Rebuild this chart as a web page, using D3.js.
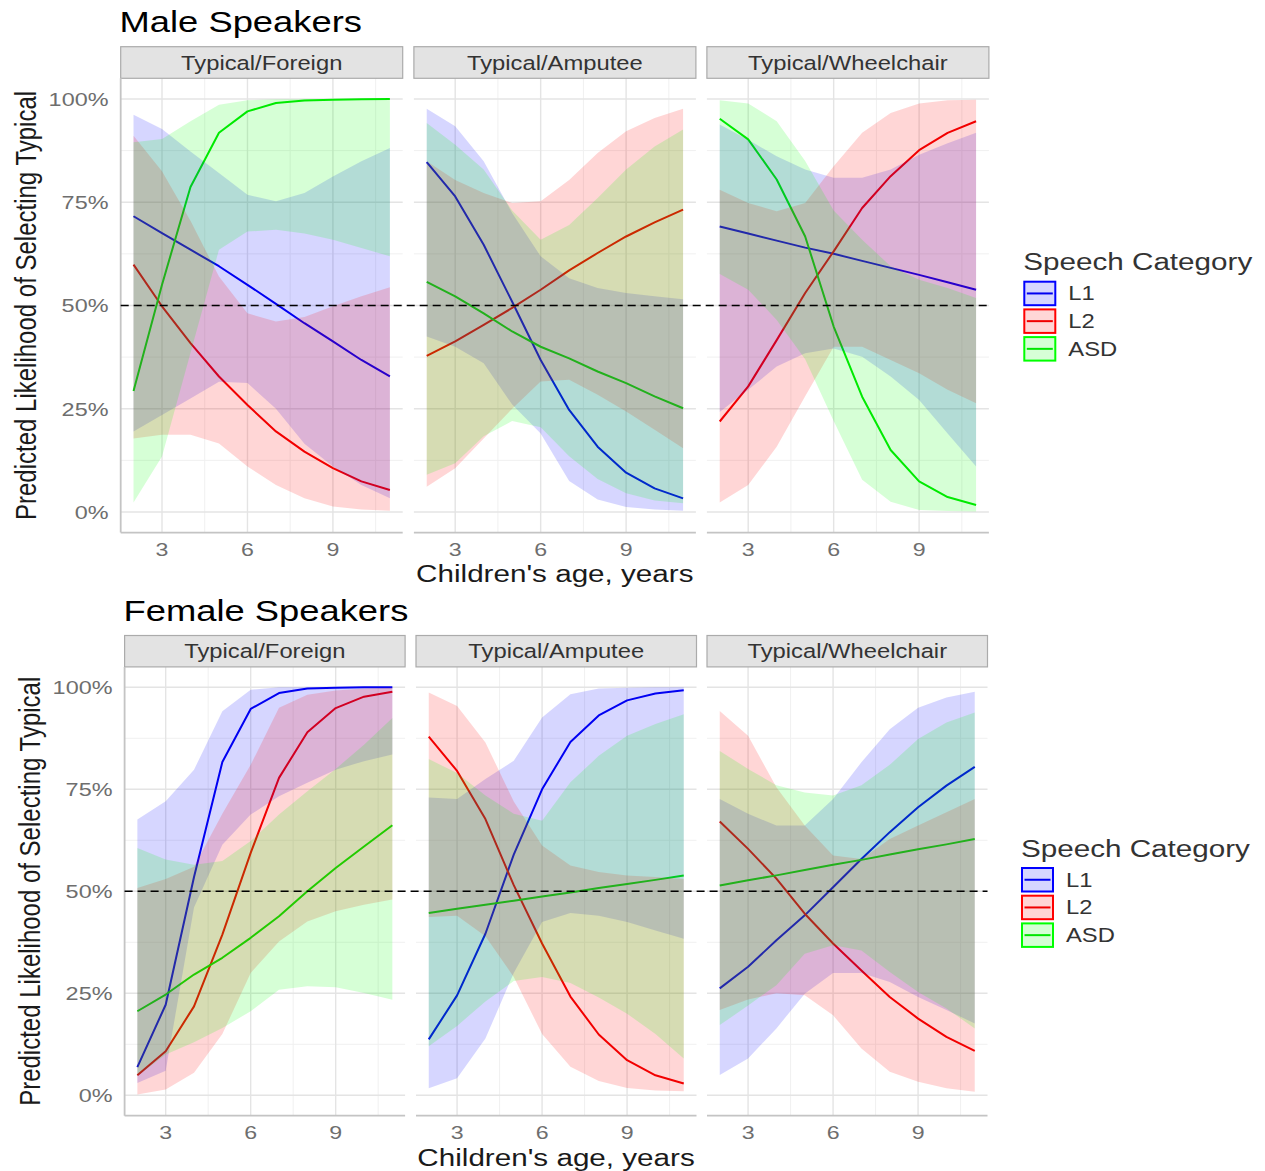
<!DOCTYPE html>
<html>
<head>
<meta charset="utf-8">
<script src="https://cdn.jsdelivr.net/npm/d3@7"></script>
<style>
  html, body { margin: 0; padding: 0; background: #ffffff; }
  svg { display: block; }
  text { font-family: "Liberation Sans", Arial, sans-serif; }
</style>
</head>
<body>
<svg id="chart" width="1265" height="1171"></svg>
<script>
// ---------------- data ----------------
const ages = [2, 3, 4, 5, 6, 7, 8, 9, 10, 11];
const facets = ["Typical/Foreign", "Typical/Amputee", "Typical/Wheelchair"];
const categories = ["L1", "L2", "ASD"];
const figureTitles = ["Male Speakers", "Female Speakers"];
const yTickValues = [0, 0.25, 0.5, 0.75, 1];
const yTickLabels = ["0%", "25%", "50%", "75%", "100%"];
const xTickValues = [3, 6, 9];
const legendTitle = "Speech Category";
const xAxisTitle = "Children's age, years";
const yAxisTitle = "Predicted Likelihood of Selecting Typical";
const referenceLine = 0.5;

// Male speakers - Typical/Foreign
const male_foreign_L1     = [0.716, 0.675, 0.635, 0.595, 0.550, 0.504, 0.457, 0.413, 0.368, 0.328];
const male_foreign_L1_lo  = [0.195, 0.235, 0.275, 0.315, 0.312, 0.250, 0.165, 0.110, 0.065, 0.033];
const male_foreign_L1_hi  = [0.962, 0.927, 0.873, 0.821, 0.768, 0.752, 0.772, 0.812, 0.849, 0.881];
const male_foreign_L2     = [0.599, 0.498, 0.409, 0.328, 0.259, 0.195, 0.146, 0.106, 0.074, 0.053];
const male_foreign_L2_lo  = [0.178, 0.187, 0.187, 0.166, 0.110, 0.065, 0.033, 0.013, 0.006, 0.003];
const male_foreign_L2_hi  = [0.911, 0.825, 0.705, 0.570, 0.481, 0.461, 0.472, 0.498, 0.522, 0.544];
const male_foreign_ASD    = [0.293, 0.550, 0.787, 0.918, 0.970, 0.990, 0.996, 0.998, 0.999, 1.000];
const male_foreign_ASD_lo = [0.023, 0.134, 0.385, 0.635, 0.679, 0.683, 0.674, 0.659, 0.639, 0.619];
const male_foreign_ASD_hi = [0.895, 0.903, 0.946, 0.986, 0.997, 0.999, 1.000, 1.000, 1.000, 1.000];

// Male speakers - Typical/Amputee
const male_amputee_L1     = [0.847, 0.764, 0.647, 0.509, 0.368, 0.247, 0.158, 0.095, 0.057, 0.033];
const male_amputee_L1_lo  = [0.425, 0.400, 0.360, 0.260, 0.190, 0.075, 0.030, 0.012, 0.006, 0.003];
const male_amputee_L1_hi  = [0.976, 0.934, 0.849, 0.724, 0.619, 0.566, 0.542, 0.530, 0.522, 0.515];
const male_amputee_L2     = [0.378, 0.413, 0.453, 0.494, 0.538, 0.585, 0.627, 0.667, 0.701, 0.732];
const male_amputee_L2_lo  = [0.061, 0.106, 0.178, 0.250, 0.316, 0.320, 0.284, 0.243, 0.199, 0.154];
const male_amputee_L2_hi  = [0.849, 0.804, 0.772, 0.748, 0.752, 0.804, 0.869, 0.922, 0.954, 0.976];
const male_amputee_ASD    = [0.557, 0.522, 0.481, 0.437, 0.400, 0.372, 0.340, 0.312, 0.280, 0.251];
const male_amputee_ASD_lo = [0.090, 0.118, 0.183, 0.220, 0.205, 0.135, 0.080, 0.045, 0.028, 0.021];
const male_amputee_ASD_hi = [0.942, 0.889, 0.829, 0.730, 0.659, 0.695, 0.760, 0.829, 0.885, 0.926];

// Male speakers - Typical/Wheelchair
const male_wheel_L1     = [0.691, 0.674, 0.657, 0.640, 0.625, 0.608, 0.591, 0.574, 0.556, 0.538];
const male_wheel_L1_lo  = [0.242, 0.296, 0.352, 0.384, 0.396, 0.376, 0.328, 0.271, 0.190, 0.110];
const male_wheel_L1_hi  = [0.938, 0.901, 0.861, 0.829, 0.809, 0.809, 0.829, 0.865, 0.893, 0.918];
const male_wheel_L2     = [0.219, 0.304, 0.416, 0.530, 0.631, 0.736, 0.813, 0.876, 0.918, 0.946];
const male_wheel_L2_lo  = [0.023, 0.065, 0.158, 0.280, 0.400, 0.400, 0.368, 0.336, 0.296, 0.263];
const male_wheel_L2_hi  = [0.780, 0.748, 0.728, 0.748, 0.837, 0.918, 0.966, 0.989, 0.997, 0.998];
const male_wheel_ASD    = [0.952, 0.902, 0.805, 0.667, 0.449, 0.279, 0.150, 0.074, 0.036, 0.017];
const male_wheel_ASD_lo = [0.576, 0.538, 0.465, 0.370, 0.220, 0.078, 0.025, 0.005, 0.002, 0.001];
const male_wheel_ASD_hi = [0.997, 0.989, 0.946, 0.850, 0.730, 0.659, 0.595, 0.562, 0.542, 0.518];

// Female speakers - Typical/Foreign
const female_foreign_L1     = [0.069, 0.222, 0.535, 0.817, 0.947, 0.986, 0.997, 0.999, 1.000, 1.000];
const female_foreign_L1_lo  = [0.030, 0.060, 0.460, 0.614, 0.688, 0.733, 0.766, 0.798, 0.819, 0.835];
const female_foreign_L1_hi  = [0.676, 0.721, 0.798, 0.941, 0.994, 1.000, 1.000, 1.000, 1.000, 1.000];
const female_foreign_L2     = [0.049, 0.108, 0.218, 0.394, 0.594, 0.778, 0.890, 0.949, 0.977, 0.989];
const female_foreign_L2_lo  = [0.002, 0.014, 0.055, 0.150, 0.300, 0.377, 0.426, 0.451, 0.467, 0.480];
const female_foreign_L2_hi  = [0.508, 0.530, 0.560, 0.690, 0.810, 0.950, 0.982, 0.992, 0.997, 0.999];
const female_foreign_ASD    = [0.206, 0.247, 0.296, 0.337, 0.386, 0.439, 0.500, 0.557, 0.610, 0.662];
const female_foreign_ASD_lo = [0.047, 0.100, 0.130, 0.165, 0.206, 0.259, 0.267, 0.265, 0.251, 0.234];
const female_foreign_ASD_hi = [0.606, 0.578, 0.565, 0.574, 0.623, 0.688, 0.745, 0.800, 0.859, 0.925];

// Female speakers - Typical/Amputee
const female_amputee_L1     = [0.137, 0.245, 0.396, 0.590, 0.750, 0.866, 0.931, 0.968, 0.985, 0.993];
const female_amputee_L1_lo  = [0.017, 0.042, 0.139, 0.300, 0.425, 0.447, 0.440, 0.425, 0.404, 0.384];
const female_amputee_L1_hi  = [0.730, 0.726, 0.775, 0.820, 0.926, 0.983, 0.997, 0.999, 1.000, 1.000];
const female_amputee_L2     = [0.879, 0.795, 0.677, 0.515, 0.372, 0.242, 0.149, 0.086, 0.049, 0.029];
const female_amputee_L2_lo  = [0.437, 0.440, 0.390, 0.290, 0.150, 0.070, 0.035, 0.018, 0.012, 0.010];
const female_amputee_L2_hi  = [0.987, 0.954, 0.865, 0.720, 0.612, 0.563, 0.547, 0.539, 0.535, 0.530];
const female_amputee_ASD    = [0.447, 0.457, 0.467, 0.477, 0.487, 0.497, 0.508, 0.518, 0.528, 0.539];
const female_amputee_ASD_lo = [0.120, 0.170, 0.230, 0.280, 0.290, 0.275, 0.240, 0.200, 0.150, 0.090];
const female_amputee_ASD_hi = [0.824, 0.790, 0.735, 0.690, 0.673, 0.767, 0.832, 0.881, 0.910, 0.934];

// Female speakers - Typical/Wheelchair
const female_wheel_L1     = [0.262, 0.315, 0.380, 0.441, 0.510, 0.579, 0.645, 0.706, 0.759, 0.805];
const female_wheel_L1_lo  = [0.050, 0.090, 0.164, 0.249, 0.300, 0.300, 0.278, 0.241, 0.209, 0.176];
const female_wheel_L1_hi  = [0.726, 0.690, 0.661, 0.661, 0.726, 0.816, 0.897, 0.950, 0.975, 0.989];
const female_wheel_L2     = [0.671, 0.604, 0.531, 0.445, 0.372, 0.306, 0.241, 0.188, 0.143, 0.109];
const female_wheel_L2_lo  = [0.209, 0.235, 0.250, 0.245, 0.196, 0.115, 0.058, 0.033, 0.017, 0.009];
const female_wheel_L2_hi  = [0.942, 0.881, 0.755, 0.661, 0.588, 0.579, 0.628, 0.661, 0.694, 0.726];
const female_wheel_ASD    = [0.514, 0.527, 0.539, 0.552, 0.565, 0.577, 0.590, 0.603, 0.615, 0.628];
const female_wheel_ASD_lo = [0.172, 0.220, 0.270, 0.347, 0.368, 0.355, 0.302, 0.253, 0.213, 0.164];
const female_wheel_ASD_hi = [0.844, 0.800, 0.760, 0.742, 0.735, 0.760, 0.810, 0.873, 0.914, 0.938];

// ---------------- tables built from the arrays ----------------
const panelData = [
  [ // male
    { L1: [male_foreign_L1, male_foreign_L1_lo, male_foreign_L1_hi],
      L2: [male_foreign_L2, male_foreign_L2_lo, male_foreign_L2_hi],
      ASD: [male_foreign_ASD, male_foreign_ASD_lo, male_foreign_ASD_hi] },
    { L1: [male_amputee_L1, male_amputee_L1_lo, male_amputee_L1_hi],
      L2: [male_amputee_L2, male_amputee_L2_lo, male_amputee_L2_hi],
      ASD: [male_amputee_ASD, male_amputee_ASD_lo, male_amputee_ASD_hi] },
    { L1: [male_wheel_L1, male_wheel_L1_lo, male_wheel_L1_hi],
      L2: [male_wheel_L2, male_wheel_L2_lo, male_wheel_L2_hi],
      ASD: [male_wheel_ASD, male_wheel_ASD_lo, male_wheel_ASD_hi] }
  ],
  [ // female
    { L1: [female_foreign_L1, female_foreign_L1_lo, female_foreign_L1_hi],
      L2: [female_foreign_L2, female_foreign_L2_lo, female_foreign_L2_hi],
      ASD: [female_foreign_ASD, female_foreign_ASD_lo, female_foreign_ASD_hi] },
    { L1: [female_amputee_L1, female_amputee_L1_lo, female_amputee_L1_hi],
      L2: [female_amputee_L2, female_amputee_L2_lo, female_amputee_L2_hi],
      ASD: [female_amputee_ASD, female_amputee_ASD_lo, female_amputee_ASD_hi] },
    { L1: [female_wheel_L1, female_wheel_L1_lo, female_wheel_L1_hi],
      L2: [female_wheel_L2, female_wheel_L2_lo, female_wheel_L2_hi],
      ASD: [female_wheel_ASD, female_wheel_ASD_lo, female_wheel_ASD_hi] }
  ]
];

// ---------------- layout / style ----------------
const SX = 1.22; // horizontal text stretch seen in the picture
const fillColor = { L1: "#0000ff", L2: "#ff0000", ASD: "#00ff00" };
const lineColor = { L1: "#0000f0", L2: "#f00000", ASD: "#00e600" };
const ribbonOpacity = 0.16;

const layouts = [
  { titleX: 119.5, titleY: 32, stripTop: 46.7, panelTop: 78.3, panelBottom: 532.6,
    panelLeft: [120.7, 413.9, 706.9], panelW: 282, yLabelRight: 108.5, yTitleX: 36,
    xTitleY: 582, tickY: 556, legendX: 1023.3, legendTitleY: 270, keyTop: 280.7 },
  { titleX: 123.5, titleY: 621, stripTop: 635.5, panelTop: 666.9, panelBottom: 1115.7,
    panelLeft: [124.6, 416, 707], panelW: 280.5, yLabelRight: 112.5, yTitleX: 40,
    xTitleY: 1166, tickY: 1139, legendX: 1021, legendTitleY: 857, keyTop: 867 }
];

const svg = d3.select("#chart");
svg.append("rect").attr("width", 1265).attr("height", 1171).attr("fill", "#ffffff");

function sText(g, x, y, str, size, color, anchor, extra) {
  return g.append("text")
    .attr("transform", `translate(${x},${y}) scale(${SX},1)` + (extra || ""))
    .attr("text-anchor", anchor || "start")
    .attr("font-size", size)
    .attr("fill", color)
    .text(str);
}

layouts.forEach((L, fi) => {
  const g = svg.append("g");
  const y = d3.scaleLinear().domain([-0.05, 1.05]).range([L.panelBottom, L.panelTop]);

  // title
  sText(g, L.titleX, L.titleY, figureTitles[fi], 29.8, "#000000", "start");

  facets.forEach((facet, pi) => {
    const x0 = L.panelLeft[pi];
    const x = d3.scaleLinear().domain([1.55, 11.45]).range([x0, x0 + L.panelW]);
    const pg = g.append("g");

    // minor grid
    const minorY = d3.range(0.125, 1, 0.25);
    const minorX = [4.5, 7.5, 10.5];
    pg.selectAll(".mgy").data(minorY).enter().append("line")
      .attr("x1", x0).attr("x2", x0 + L.panelW)
      .attr("y1", d => y(d)).attr("y2", d => y(d))
      .attr("stroke", "#f0f0f0").attr("stroke-width", 1);
    pg.selectAll(".mgx").data(minorX).enter().append("line")
      .attr("x1", d => x(d)).attr("x2", d => x(d))
      .attr("y1", L.panelTop).attr("y2", L.panelBottom)
      .attr("stroke", "#f0f0f0").attr("stroke-width", 1);
    // major grid
    pg.selectAll(".gy").data(yTickValues).enter().append("line")
      .attr("x1", x0).attr("x2", x0 + L.panelW)
      .attr("y1", d => y(d)).attr("y2", d => y(d))
      .attr("stroke", "#e4e4e4").attr("stroke-width", 1.4);
    pg.selectAll(".gx").data(xTickValues).enter().append("line")
      .attr("x1", d => x(d)).attr("x2", d => x(d))
      .attr("y1", L.panelTop).attr("y2", L.panelBottom)
      .attr("stroke", "#e4e4e4").attr("stroke-width", 1.4);

    // lines (drawn beneath ribbons)
    const data = panelData[fi][pi];
    categories.forEach(cat => {
      const fit = data[cat][0];
      const line = d3.line().x((d, i) => x(ages[i])).y(d => y(d));
      pg.append("path").attr("d", line(fit))
        .attr("fill", "none").attr("stroke", lineColor[cat]).attr("stroke-width", 2)
        .attr("stroke-linejoin", "round");
    });
    // ribbons
    categories.forEach(cat => {
      const lo = data[cat][1], hi = data[cat][2];
      const area = d3.area().x((d, i) => x(ages[i])).y0((d, i) => y(lo[i])).y1((d, i) => y(hi[i]));
      pg.append("path").attr("d", area(lo))
        .attr("fill", fillColor[cat]).attr("fill-opacity", ribbonOpacity).attr("stroke", "none");
    });

    // strip
    pg.append("rect").attr("x", x0).attr("y", L.stripTop)
      .attr("width", L.panelW).attr("height", L.panelTop - L.stripTop)
      .attr("fill", "#e3e3e3").attr("stroke", "#ababab").attr("stroke-width", 1.2);
    sText(pg, x0 + L.panelW / 2, (L.stripTop + L.panelTop) / 2 + 7.2, facet, 19.5, "#333333", "middle");

    // x axis line and tick labels
    pg.append("line").attr("x1", x0).attr("x2", x0 + L.panelW)
      .attr("y1", L.panelBottom).attr("y2", L.panelBottom)
      .attr("stroke", "#c4c4c4").attr("stroke-width", 1.8);
    xTickValues.forEach(t => {
      sText(pg, x(t), L.tickY, String(t), 19, "#6e6e6e", "middle");
    });

    if (pi === 0) {
      pg.append("line").attr("x1", x0).attr("x2", x0)
        .attr("y1", L.panelTop).attr("y2", L.panelBottom)
        .attr("stroke", "#c4c4c4").attr("stroke-width", 1.8);
      yTickValues.forEach((t, i) => {
        sText(pg, L.yLabelRight, y(t) + 6.8, yTickLabels[i], 19.2, "#6e6e6e", "end");
      });
    }
  });

  // reference dashed line across panels
  const xStart = L.panelLeft[0], xEnd = L.panelLeft[2] + L.panelW;
  g.append("line").attr("x1", xStart).attr("x2", xEnd)
    .attr("y1", y(referenceLine)).attr("y2", y(referenceLine))
    .attr("stroke", "#000000").attr("stroke-width", 1.6).attr("stroke-dasharray", "8,5");

  // axis titles
  sText(g, (xStart + xEnd) / 2, L.xTitleY, xAxisTitle, 24.3, "#1a1a1a", "middle");
  g.append("text")
    .attr("transform", `translate(${L.yTitleX},${(L.panelTop + L.panelBottom) / 2}) scale(${SX},1) rotate(-90)`)
    .attr("text-anchor", "middle").attr("font-size", 24).attr("fill", "#1a1a1a")
    .text(yAxisTitle);

  // legend
  const lg = g.append("g");
  lg.append("text")
    .attr("transform", `translate(${L.legendX},${L.legendTitleY}) scale(1.2,1)`)
    .attr("font-size", 24.7).attr("fill", "#333333").text(legendTitle);
  const keyW = 33, keyH = 25.5, keyStep = 27.7;
  categories.forEach((cat, i) => {
    const ky = L.keyTop + i * keyStep;
    lg.append("rect").attr("x", L.legendX + 1).attr("y", ky + 1)
      .attr("width", keyW - 2).attr("height", keyH - 2)
      .attr("fill", "#ffffff");
    lg.append("rect").attr("x", L.legendX + 1).attr("y", ky + 1)
      .attr("width", keyW - 2).attr("height", keyH - 2)
      .attr("fill", fillColor[cat]).attr("fill-opacity", ribbonOpacity)
      .attr("stroke", fillColor[cat]).attr("stroke-width", 2);
    lg.append("line").attr("x1", L.legendX + 3.5).attr("x2", L.legendX + keyW - 3.5)
      .attr("y1", ky + keyH / 2).attr("y2", ky + keyH / 2)
      .attr("stroke", lineColor[cat]).attr("stroke-width", 2);
    sText(lg, L.legendX + 45, ky + keyH / 2 + 7, cat, 19.5, "#333333", "start");
  });
});
</script>
</body>
</html>
